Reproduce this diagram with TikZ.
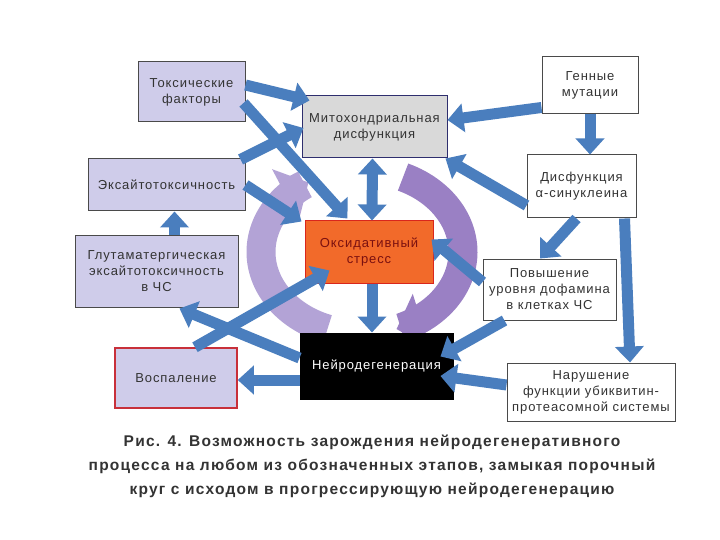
\documentclass[tikz,border=0pt]{standalone}
\usepackage{fontspec}
\setmainfont{Liberation Sans}
\usetikzlibrary{arrows.meta,calc}
\definecolor{lav}{HTML}{CFCCEA}
\definecolor{mitofill}{HTML}{D9D9D9}
\definecolor{navy}{HTML}{2E2E6E}
\definecolor{oxfill}{HTML}{F26A2A}
\definecolor{oxborder}{HTML}{D9261C}
\definecolor{oxtext}{HTML}{7A1010}
\definecolor{infborder}{HTML}{C8303A}
\definecolor{txtgray}{HTML}{333333}
\definecolor{bordgray}{HTML}{4A4A4A}
\definecolor{arrowblue}{HTML}{4A7EBE}
\definecolor{purpleA}{HTML}{B3A3D6}
\definecolor{purpleB}{HTML}{9A80C4}
\newcommand\boxfont{\fontsize{13}{16}\selectfont\addfontfeatures{LetterSpace=7}}
\newcommand\capfont{\fontsize{15.5}{24}\selectfont\bfseries\addfontfeatures{LetterSpace=8}}
\begin{document}
\begin{tikzpicture}[x=1pt,y=-1pt,
  box/.style={draw=bordgray, line width=1pt, align=center, inner sep=1pt, font=\boxfont, text=txtgray},
  barrow/.style={draw=arrowblue, line width=11pt, -{Triangle[length=16pt,width=28pt]}},
  dbarrow/.style={draw=arrowblue, line width=11pt, {Triangle[length=16pt,width=28pt]}-{Triangle[length=16pt,width=28pt]}},
  parc/.style={line width=29pt, -{Triangle[length=26pt,width=56pt]}}]
\fill[white] (0,0) rectangle (720,540);
\useasboundingbox (0,0) rectangle (720,540);

% purple circular arrows
\draw[parc, draw=purpleA] plot[domain=110:238, smooth, samples=40, variable=\t] ({362+101*cos(\t)},{252+82*sin(\t)});
\draw[parc, draw=purpleB] plot[domain=-66:70, smooth, samples=40, variable=\t] ({362+101*cos(\t)},{252+82*sin(\t)});

% boxes
\node[box, fill=lav, minimum width=107pt, minimum height=60pt] (tox) at (191.5,92) {Токсические\\факторы};
\node[box, fill=mitofill, draw=navy, minimum width=145pt, minimum height=62pt] (mito) at (374.5,127) {Митохондриальная\\дисфункция};
\node[box, fill=white, minimum width=96pt, minimum height=57pt] (gen) at (590,85.5) {Генные\\мутации};
\node[box, fill=white, minimum width=109pt, minimum height=63pt] (syn) at (581.5,186.5) {Дисфункция\\α-синуклеина};
\node[box, fill=lav, minimum width=157pt, minimum height=52pt] (exc) at (166.5,185) {Эксайтотоксичность};
\node[box, fill=lav, minimum width=163pt, minimum height=72pt] (glu) at (156.5,271) {Глутаматергическая\\эксайтотоксичность\\в ЧС};
\node[box, fill=oxfill, draw=oxborder, text=oxtext, minimum width=128pt, minimum height=62pt] (oxi) at (369,252) {Оксидативный\\стресс};
\node[box, fill=white, minimum width=133pt, minimum height=61pt] (dop) at (549.5,289.5) {Повышение\\уровня дофамина\\в клетках ЧС};
\node[box, fill=black, draw=black, text=white, minimum width=153pt, minimum height=66pt] (neu) at (376.5,366) {Нейродегенерация};
\node[box, fill=lav, draw=infborder, line width=1.5pt, minimum width=122pt, minimum height=60pt] (inf) at (176,378) {Воспаление};
\node[box, fill=white, minimum width=168pt, minimum height=58pt] (ups) at (591,392) {Нарушение\\функции убиквитин-\\протеасомной системы};

% blue arrows
\draw[barrow] ($(tox.east)+(0,-7)$) -- ($(mito.north west)+(8,5)$);
\draw[barrow] ($(tox.east)+(-2,11)$) -- ($(oxi.north west)+(43,-2)$);
\draw[barrow] ($(exc.north east)+(-5,1)$) -- ($(mito.west)+(2,1)$);
\draw[barrow] (exc.east) -- ($(oxi.north west)+(-3,1)$);
\draw[barrow] ($(glu.north)+(18,0)$) -- ($(exc.south)+(8,0)$);
\draw[barrow] ($(inf.north)+(19,0)$) -- ($(oxi.south west)+(25,-13)$);
\draw[barrow] ($(neu.west)+(0,-8)$) -- ($(glu.south)+(23,1)$);
\draw[barrow] ($(neu.west)+(0,14)$) -- ($(inf.east)+(0,2)$);
\draw[dbarrow] ($(mito.south)+(-2,0)$) -- ($(oxi.north)+(3,0)$);
\draw[barrow] ($(oxi.south)+(3,0)$) -- ($(neu.north)+(-4.5,0)$);
\draw[barrow] ($(gen.west)+(0,22)$) -- ($(mito.east)+(0,-7)$);
\draw[barrow] (gen.south) -- ($(syn.north)+(8.5,0)$);
\draw[barrow] ($(syn.west)+(0,19)$) -- ($(mito.south east)+(-2,0)$);
\draw[barrow] ($(syn.south)+(-5,0)$) -- ($(dop.north)+(-9.5,0)$);
\draw[barrow] ($(syn.south east)+(-12,0)$) -- ($(ups.north)+(39,0)$);
\draw[barrow] ($(dop.west)+(0,-7.5)$) -- ($(oxi.north east)+(-2,19)$);
\draw[barrow] ($(dop.south west)+(22,0)$) -- ($(neu.north east)+(-13,24)$);
\draw[barrow] ($(ups.west)+(0,-7)$) -- ($(neu.east)+(-13,10)$);

% caption
\node[font=\capfont, text=txtgray, align=center] (cap) at (372,466) {Рис. 4. Возможность зарождения нейродегенеративного\\процесса на любом из обозначенных этапов, замыкая порочный\\круг с исходом в прогрессирующую нейродегенерацию};
\end{tikzpicture}
\end{document}
